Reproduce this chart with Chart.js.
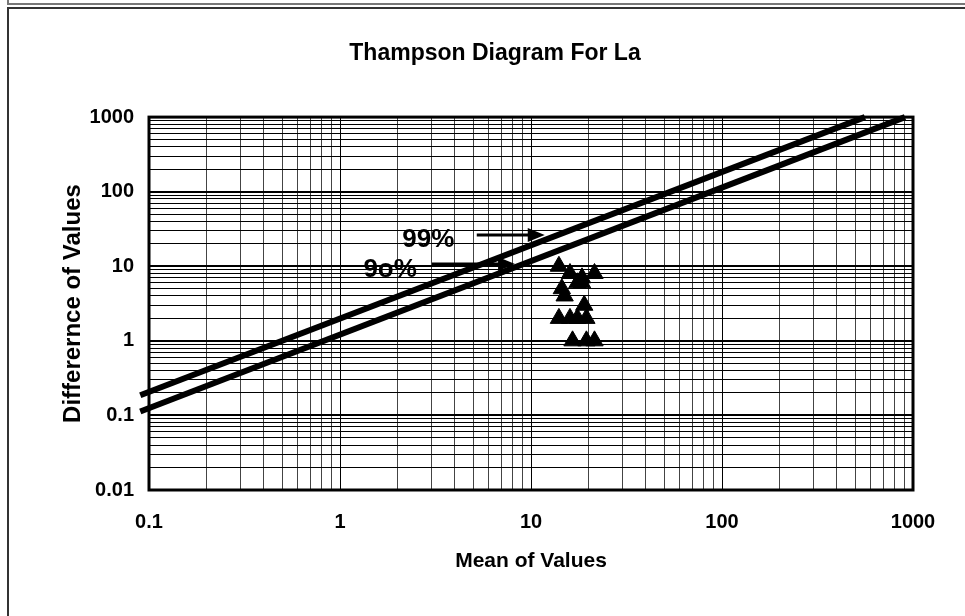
<!DOCTYPE html>
<html>
<head>
<meta charset="utf-8">
<script src="https://cdn.jsdelivr.net/npm/chart.js@4.4.1/dist/chart.umd.min.js"></script>
<style>
  html, body { margin: 0; padding: 0; background: #fff; }
  #wrap { position: relative; width: 965px; height: 616px; overflow: hidden; }
  #prev { position: absolute; left: 7px; top: 0; width: 970px; height: 3px;
          border-left: 2px solid #777; border-bottom: 2px solid #777; }
  #box { position: absolute; left: 7px; top: 7px; width: 980px; height: 640px;
         border: 2px solid #333; }
  canvas { position: absolute; left: 0; top: 0; }
</style>
</head>
<body>
<div id="wrap">
  <div id="prev"></div>
  <div id="box"></div>
  <canvas id="thampson" width="965" height="616"></canvas>
</div>
<script>
// sample points (mean, difference)
const meanValues = [14, 16, 18.5, 21.5, 17.5, 14.5, 15, 18.5, 19, 14, 16, 17.5, 19.5, 16.5, 19.5, 21.5];
const diffValues = [10, 8, 7, 8, 6, 5, 4, 6, 3, 2, 2, 2, 2, 1, 1, 1];

// precision lines
const line99X = [0.09, 560];
const line99Y = [0.186, 1000];
const line90X = [0.09, 908];
const line90Y = [0.113, 1000];

// axis ticks
const xTickValues = [0.1, 1, 10, 100, 1000];
const xTickLabels = ['0.1', '1', '10', '100', '1000'];
const yTickValues = [0.01, 0.1, 1, 10, 100, 1000];
const yTickLabels = ['0.01', '0.1', '1', '10', '100', '1000'];

// arrow notes
const noteText = ['99%', '9o%'];
const noteX = [2.9, 1.83];
const noteY = [22.4, 8.9];
const arrowFromX = [5.2, 3.03];
const arrowToX = [11.8, 8.25];
const arrowY = [26.2, 10.7];

const FONT = "'Liberation Sans', Arial, sans-serif";

function pairs(xs, ys) {
  return xs.map((x, i) => ({ x: x, y: ys[i] }));
}
function isDecade(v) {
  const l = Math.log10(v);
  return Math.abs(l - Math.round(l)) < 1e-6;
}
// empty string (not null) so the minor grid lines stay
function labelFor(values, labels) {
  return function (v) {
    const i = values.findIndex(t => Math.abs(Math.log10(t) - Math.log10(v)) < 1e-6);
    return i >= 0 ? labels[i] : '';
  };
}
// 1..9 x 10^n grid between the decade ticks
function decadeSteps(decades) {
  return function (scale) {
    const ticks = [];
    decades.forEach((d, i) => {
      if (i === decades.length - 1) { ticks.push({ value: d, major: true }); return; }
      for (let k = 1; k <= 9; k++) ticks.push({ value: +(d * k).toPrecision(6), major: k === 1 });
    });
    scale.ticks = ticks;
  };
}

const framePlugin = {
  id: 'frame',
  afterDatasetsDraw(chart) {
    const { ctx, chartArea: a, scales } = chart;
    ctx.save();
    ctx.strokeStyle = '#000';
    ctx.lineWidth = 3;
    ctx.strokeRect(a.left, a.top, a.right - a.left, a.bottom - a.top);

    // notes and arrows
    ctx.fillStyle = '#000';
    ctx.font = "bold 26px " + FONT;
    ctx.textAlign = 'center';
    ctx.textBaseline = 'middle';
    noteText.forEach((t, i) => {
      ctx.fillText(t, scales.x.getPixelForValue(noteX[i]), scales.y.getPixelForValue(noteY[i]));
    });
    ctx.lineWidth = 3;
    arrowFromX.forEach((fx, i) => {
      const x0 = scales.x.getPixelForValue(fx);
      const x1 = scales.x.getPixelForValue(arrowToX[i]);
      const y = scales.y.getPixelForValue(arrowY[i]);
      ctx.beginPath();
      ctx.moveTo(x0, y);
      ctx.lineTo(x1 - 12, y);
      ctx.stroke();
      ctx.beginPath();
      ctx.moveTo(x1, y);
      ctx.lineTo(x1 - 17, y - 7);
      ctx.lineTo(x1 - 17, y + 7);
      ctx.closePath();
      ctx.fill();
    });
    ctx.restore();
  }
};

new Chart(document.getElementById('thampson'), {
  data: {
    datasets: [
      {
        type: 'line',
        label: '99%',
        data: pairs(line99X, line99Y),
        borderColor: '#000',
        borderWidth: 6,
        pointRadius: 0,
        clip: false
      },
      {
        type: 'line',
        label: '90%',
        data: pairs(line90X, line90Y),
        borderColor: '#000',
        borderWidth: 6,
        pointRadius: 0,
        clip: false
      },
      {
        type: 'scatter',
        label: 'La',
        data: pairs(meanValues, diffValues),
        pointStyle: 'triangle',
        pointRadius: 10,
        backgroundColor: '#000',
        borderColor: '#000',
        borderWidth: 1
      }
    ]
  },
  options: {
    responsive: false,
    animation: false,
    devicePixelRatio: 1,
    layout: { padding: { left: 77, right: 52, top: 0, bottom: 0 } },
    plugins: {
      legend: { display: false },
      tooltip: { enabled: false },
      title: {
        display: true,
        text: 'Thampson Diagram For La',
        color: '#000',
        font: { family: FONT, size: 23, weight: 'bold' },
        padding: { top: 39.5, bottom: 50 }
      }
    },
    scales: {
      x: {
        type: 'logarithmic',
        min: 0.1,
        max: 1000,
        afterBuildTicks: decadeSteps(xTickValues),
        afterFit: s => { s.height = 126; },
        grid: {
          drawTicks: false,
          color: c => (c.tick && isDecade(c.tick.value)) ? '#000' : '#444',
          lineWidth: 1
        },
        border: { display: false },
        ticks: {
          autoSkip: false,
          maxRotation: 0,
          padding: 20,
          color: '#000',
          font: { family: FONT, size: 20, weight: 'bold' },
          callback: labelFor(xTickValues, xTickLabels)
        },
        title: {
          display: true,
          text: 'Mean of Values',
          color: '#000',
          font: { family: FONT, size: 21, weight: 'bold' },
          padding: { top: 0, bottom: 42.4 }
        }
      },
      y: {
        type: 'logarithmic',
        min: 0.01,
        max: 1000,
        afterBuildTicks: decadeSteps(yTickValues),
        afterFit: s => { s.width = 72; },
        grid: {
          drawTicks: false,
          color: '#000',
          lineWidth: c => (c.tick && isDecade(c.tick.value)) ? 2 : 1
        },
        border: { display: false },
        ticks: {
          autoSkip: false,
          padding: 15,
          color: '#000',
          font: { family: FONT, size: 20, weight: 'bold' },
          callback: labelFor(yTickValues, yTickLabels)
        },
        title: {
          display: true,
          text: 'Differernce of Values',
          color: '#000',
          font: { family: FONT, size: 24, weight: 'bold' },
          padding: { top: -18, bottom: 0 }
        }
      }
    }
  },
  plugins: [framePlugin]
});
</script>
</body>
</html>
